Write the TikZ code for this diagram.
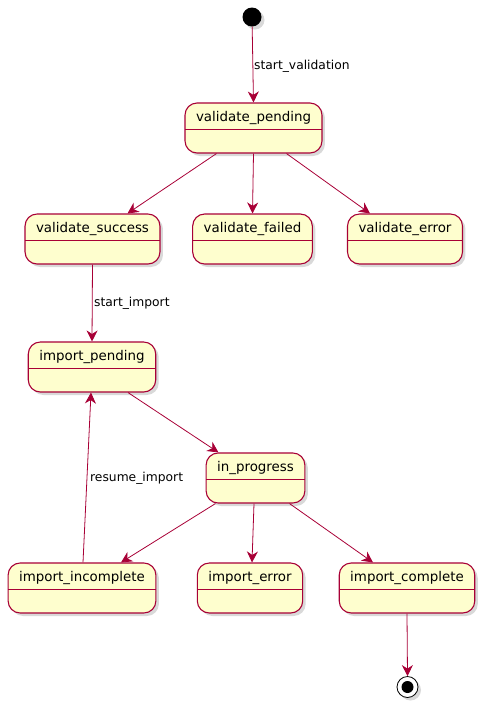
\documentclass[tikz,border=0pt]{standalone}
\usepackage{fontspec}
\setmainfont{DejaVu Sans}
\usetikzlibrary{arrows.meta,shadows}
\definecolor{plumred}{HTML}{A80036}
\definecolor{statefill}{HTML}{FEFECE}
\newcommand{\statefont}{\fontsize{13.4}{16}\selectfont}
\newcommand{\edgefont}{\fontsize{12.3}{15}\selectfont}
\newcommand{\dividerdrop}{26pt}

\tikzset{
  state/.style={draw=plumred, fill=statefill, line width=1.1pt, rounded corners=12pt,
    inner xsep=11pt, inner ysep=0pt, text height=18pt, text depth=32pt, font=\statefont,
    drop shadow={opacity=0.3, shadow xshift=3pt, shadow yshift=-3pt},
    path picture={\draw[plumred, line width=0.8pt]
      ([yshift=-\dividerdrop]path picture bounding box.north west) --
      ([yshift=-\dividerdrop]path picture bounding box.north east);}},
  trans/.style={draw=plumred, line width=0.8pt, -{Stealth[length=11pt, width=11pt, inset=3.5pt]}},
  trlabel/.style={font=\edgefont, anchor=west, inner sep=0pt}
}

\begin{document}
\begin{tikzpicture}[x=1pt, y=-1pt]
\useasboundingbox (0,0) rectangle (488,705);

%% Start point
\node[circle, fill=black, minimum size=19pt, inner sep=0pt,
  drop shadow={opacity=0.3, shadow xshift=3pt, shadow yshift=-3pt}] (start) at (252,17) {};

%% Validation states
\node[state] (vpending) at (253.5,128) {validate\_pending};
\node[state] (vsuccess) at (92.5,239) {validate\_success};
\node[state] (vfailed) at (252.5,239) {validate\_failed};
\node[state] (verror) at (405,239) {validate\_error};

%% Import states
\node[state] (ipending) at (92,367) {import\_pending};
\node[state] (progress) at (255.5,478) {in\_progress};
\node[state] (iincomplete) at (82,588) {import\_incomplete};
\node[state] (ierror) at (250,588) {import\_error};
\node[state] (icomplete) at (407,588) {import\_complete};

%% End point
\node[circle, draw=black, fill=white, line width=0.8pt, minimum size=21pt, inner sep=0pt,
  drop shadow={opacity=0.3, shadow xshift=3pt, shadow yshift=-3pt}] (stop) at (407.5,687) {};
\node[circle, fill=black, minimum size=12pt, inner sep=0pt] (stopdot) at (stop) {};

%% Start to validate_pending
\draw[trans] (start) -- (vpending.north);
\node[trlabel] (lvalidation) at (254,66) {start\_validation};

%% Outcomes of validation
\draw[trans] ([xshift=-37pt]vpending.south) -- ([xshift=35pt]vsuccess.north);
\draw[trans] (vpending.south) -- (vfailed.north);
\draw[trans] ([xshift=33pt]vpending.south) -- ([xshift=-35pt]verror.north);

%% Success starts the import
\draw[trans] (vsuccess.south) -- (ipending.north);
\node[trlabel] (limport) at (94,303) {start\_import};

%% Import pending to in_progress
\draw[trans] ([xshift=36pt]ipending.south) -- ([xshift=-37pt]progress.north);

%% Resume from incomplete
\draw[trans] ([xshift=1pt]iincomplete.north) -- ([xshift=-1pt]ipending.south);
\node[trlabel] (lresume) at (90,478) {resume\_import};

%% Outcomes of the import
\draw[trans] ([xshift=-40pt]progress.south) -- ([xshift=39pt]iincomplete.north);
\draw[trans] ([xshift=-1.5pt]progress.south) -- ([xshift=2pt]ierror.north);
\draw[trans] ([xshift=34pt]progress.south) -- ([xshift=-34pt]icomplete.north);

%% Complete to end point
\draw[trans] (icomplete.south) -- (stop.north);

\end{tikzpicture}
\end{document}
